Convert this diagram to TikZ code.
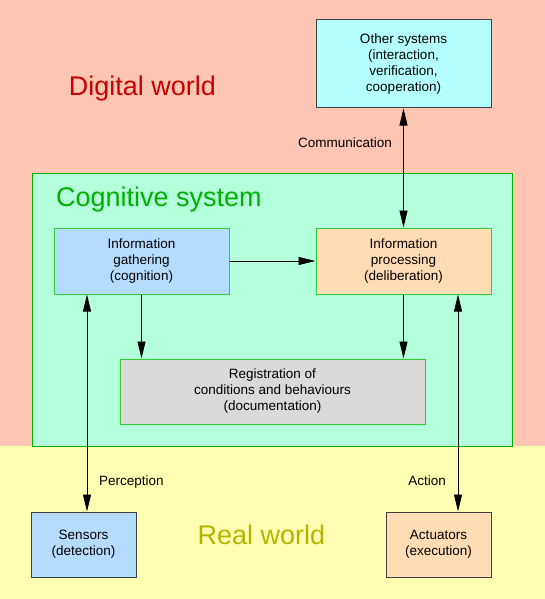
\documentclass[tikz,border=0pt]{standalone}
\usepackage{fontspec}
\setmainfont{Liberation Sans}
\usepackage{tikz}
\usetikzlibrary{arrows.meta, positioning}

\definecolor{digitalbg}{RGB}{255,198,180}
\definecolor{realbg}{RGB}{255,255,180}
\definecolor{cogfill}{RGB}{180,255,220}
\definecolor{cogline}{RGB}{0,176,0}
\definecolor{boxline}{RGB}{51,204,51}
\definecolor{outline}{RGB}{64,64,64}
\definecolor{bluefill}{RGB}{180,220,255}
\definecolor{orangefill}{RGB}{255,220,180}
\definecolor{cyanfill}{RGB}{180,255,255}
\definecolor{greyfill}{RGB}{218,218,218}
\definecolor{digitaltext}{RGB}{200,0,0}
\definecolor{realtext}{RGB}{180,180,0}

\begin{document}
\begin{tikzpicture}[
    x=1pt, y=-1pt,
    every node/.style={font=\fontsize{13.5}{16}\selectfont},
    box/.style={draw, line width=1pt, align=center, inner sep=0pt},
    innerbox/.style={box, draw=boxline, minimum width=175pt, minimum height=66pt},
    outerbox/.style={box, draw=outline, minimum width=105pt, minimum height=65pt},
    world/.style={font=\fontsize{27}{32}\selectfont, inner sep=0pt},
    lbl/.style={inner sep=0pt},
    link/.style={line width=0.8pt, -{Triangle[length=17pt, width=8pt]}},
    twoway/.style={line width=0.8pt, {Triangle[length=17pt, width=8pt]}-{Triangle[length=17pt, width=8pt]}}
]

% Backgrounds
\fill[digitalbg] (0,0) rectangle (545,446);
\fill[realbg] (0,446) rectangle (545,599);
\useasboundingbox (0,0) rectangle (545,599);

% Cognitive system frame
\draw[cogline, fill=cogfill, line width=1pt] (32,173) rectangle (512,446);

% Titles
\node[world, text=digitaltext, anchor=base] (digital) at (142.5,96) {Digital world};
\node[world, text=cogline, anchor=base west] (cognitive) at (56,206) {Cognitive system};
\node[world, text=realtext, anchor=base] (real) at (261.5,544) {Real world};

% Boxes
\node[outerbox, fill=cyanfill, minimum width=175pt, minimum height=88pt] (other) at (403.5,64)
    {Other systems\\(interaction,\\verification,\\cooperation)};
\node[innerbox, fill=bluefill] (gather) at (141.5,261) {Information\\gathering\\(cognition)};
\node[innerbox, fill=orangefill] (process) at (403.5,261) {Information\\processing\\(deliberation)};
\node[innerbox, fill=greyfill, minimum width=305pt, minimum height=65pt] (regist) at (272.5,391.5)
    {Registration of\\conditions and behaviours\\(documentation)};
\node[outerbox, fill=bluefill] (sensors) at (83.5,544.5) {Sensors\\(detection)};
\node[outerbox, fill=orangefill] (actuators) at (438.5,544.5) {Actuators\\(execution)};

% Connectors
\coordinate (perc) at (87,0);
\coordinate (act) at (458,0);
\draw[twoway] (other.south) -- (process.north);
\draw[link] (gather.east) -- (process.west);
\draw[link] (gather.south) -- (gather.south |- regist.north);
\draw[link] (process.south) -- (process.south |- regist.north);
\draw[twoway] (gather.south -| perc) -- (sensors.north -| perc);
\draw[twoway] (process.south -| act) -- (actuators.north -| act);

% Labels
\node[lbl, anchor=base east] (comm) at (392,147) {Communication};
\node[lbl, anchor=base west] (perception) at (99,485) {Perception};
\node[lbl, anchor=base east] (action) at (446,485) {Action};

\end{tikzpicture}
\end{document}
